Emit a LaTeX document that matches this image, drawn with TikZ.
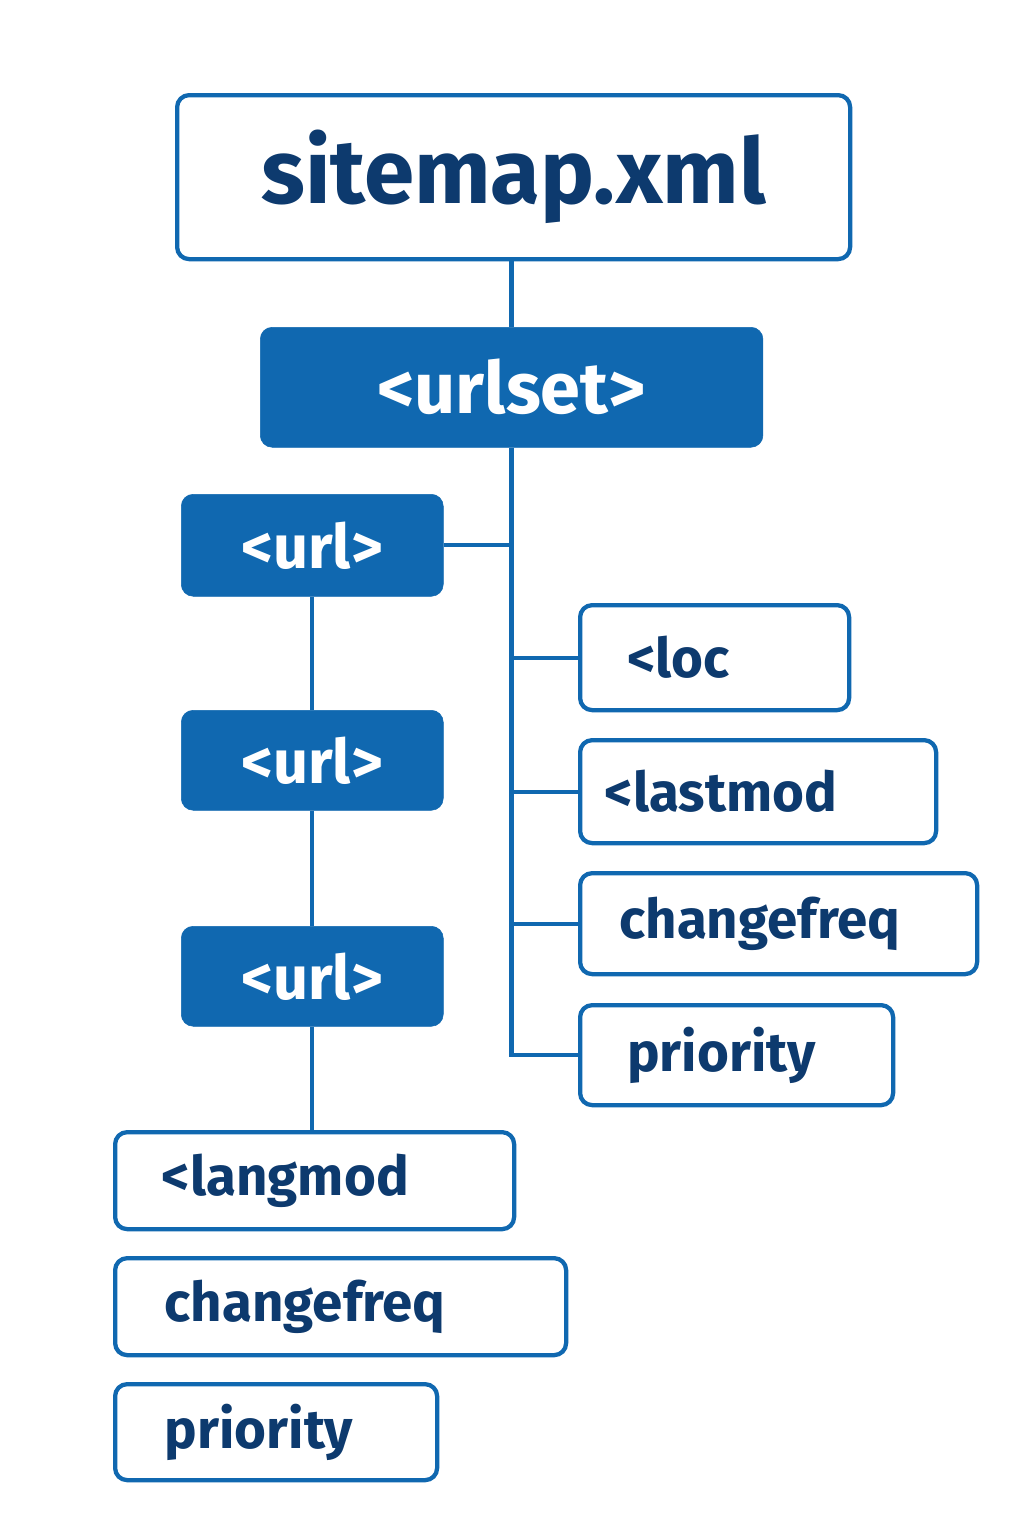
\documentclass[tikz,border=0pt]{standalone}
\usepackage{fontspec}
\setmainfont{Fira Sans}
\definecolor{bl}{HTML}{1068B0}
\definecolor{nv}{HTML}{0D3A6E}
\begin{document}
\begin{tikzpicture}[x=0.75pt,y=-0.75pt,
  wbox/.style={draw=bl,line width=3.2pt,rounded corners=9pt,fill=white,anchor=north west,text=nv,inner ysep=0pt,align=left,font=\fontsize{41}{45}\selectfont\bfseries},
  fbox/.style={draw=bl,fill=bl,rounded corners=9pt,anchor=north west,text=white,inner ysep=0pt,align=center,font=\fontsize{46}{50}\selectfont\bfseries},
  ln/.style={draw=bl,line width=3.2pt}]
\fill[white] (0,0) rectangle (1024,1536);
\useasboundingbox (0,0) rectangle (1024,1536);
\node[wbox,align=center,font=\fontsize{68}{72}\selectfont\bfseries,minimum width=504.75pt,minimum height=123pt,text width=480pt,inner xsep=0pt] (sm) at (175,93) {sitemap.xml};
\node[fbox,minimum width=377pt,minimum height=90pt,text width=360pt,inner xsep=0pt,font=\fontsize{54}{58}\selectfont\bfseries] (us) at (260,327) {<urlset>};
\node[fbox,minimum width=196.5pt,minimum height=76.5pt,text width=190pt,inner xsep=0pt] (u1) at (181,494) {<url>};
\node[fbox,minimum width=196.5pt,minimum height=75pt,text width=190pt,inner xsep=0pt] (u2) at (181,710) {<url>};
\node[fbox,minimum width=196.5pt,minimum height=75pt,text width=190pt,inner xsep=0pt] (u3) at (181,926) {<url>};
\node[wbox,minimum width=201.75pt,minimum height=78.75pt,inner xsep=35pt,text width=131pt] (loc) at (578,603) {<loc};
\node[wbox,minimum width=267pt,minimum height=77.25pt,inner xsep=18pt,text width=230pt] (lm) at (578,738) {<lastmod};
\node[wbox,minimum width=297.75pt,minimum height=75.75pt,inner xsep=29pt,text width=239pt] (cf) at (578,871) {changefreq};
\node[wbox,minimum width=234.75pt,minimum height=75pt,inner xsep=35pt,text width=164pt] (pr) at (578,1003) {priority};
\node[wbox,minimum width=299.25pt,minimum height=72.75pt,inner xsep=35pt,text width=229pt] (lg) at (113,1130) {<langmod};
\node[wbox,minimum width=338.25pt,minimum height=72.75pt,inner xsep=37pt,text width=264pt] (cf2) at (113,1256) {changefreq};
\node[wbox,minimum width=241.5pt,minimum height=72pt,inner xsep=37pt,text width=167pt] (pr2) at (113,1382) {priority};
\coordinate (bot) at (us.south |- pr.west);
\draw[ln] (us.north |- sm.south) -- (us.north);
\draw[ln] (us.south) -- (bot) -- (pr.west);
\draw[ln] (u1.east) -- (u1.east -| us.south);
\draw[ln] (loc.west -| us.south) -- (loc.west);
\draw[ln] (lm.west -| us.south) -- (lm.west);
\draw[ln] (cf.west -| us.south) -- (cf.west);
\draw[ln] (u1.south) -- (u1.south |- u2.north);
\draw[ln] (u2.south) -- (u2.south |- u3.north);
\draw[ln] (u3.south) -- (u3.south |- lg.north);
\end{tikzpicture}
\end{document}
